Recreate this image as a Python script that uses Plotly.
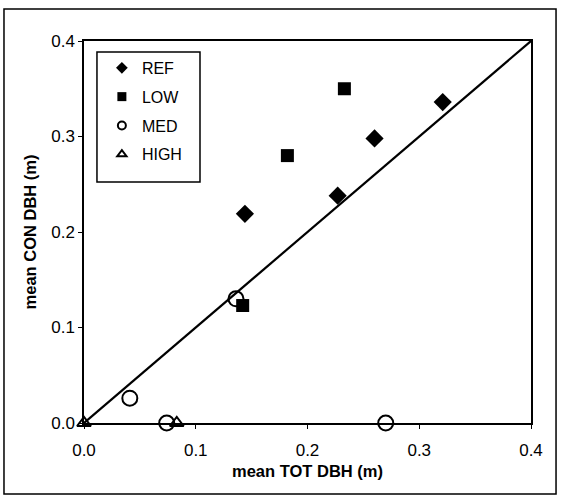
import plotly.graph_objects as go

# Data (mean TOT DBH, mean CON DBH) in metres
ref_x = [0.144, 0.227, 0.260, 0.321]
ref_y = [0.219, 0.238, 0.298, 0.336]
low_x = [0.142, 0.182, 0.233]
low_y = [0.123, 0.280, 0.350]
med_x = [0.041, 0.074, 0.136, 0.270]
med_y = [0.026, 0.000, 0.130, 0.000]
high_x = [0.000, 0.083]
high_y = [0.000, 0.000]
line_x = [0.0, 0.4]
line_y = [0.0, 0.4]
ticks = [0.0, 0.1, 0.2, 0.3, 0.4]
tick_text = ["0.0", "0.1", "0.2", "0.3", "0.4"]
series_names = ["REF", "LOW", "MED", "HIGH"]

FONT = "Liberation Sans, Arial, sans-serif"

styles = {
    "REF": dict(symbol="diamond", size=14, color="black"),
    "LOW": dict(symbol="square", size=13, color="black"),
    "MED": dict(symbol="circle-open", size=15, color="black", line=dict(width=2, color="black")),
    "HIGH": dict(symbol="triangle-up-open", size=12, color="black", line=dict(width=2, color="black")),
}
legend_styles = {
    "REF": dict(symbol="diamond", size=9, color="black"),
    "LOW": dict(symbol="square", size=9, color="black"),
    "MED": dict(symbol="circle-open", size=8, color="black", line=dict(width=2, color="black")),
    "HIGH": dict(symbol="triangle-up-open", size=8, color="black", line=dict(width=2, color="black")),
}
data = {"REF": (ref_x, ref_y), "LOW": (low_x, low_y), "MED": (med_x, med_y), "HIGH": (high_x, high_y)}

fig = go.Figure()
fig.add_trace(go.Scatter(x=line_x, y=line_y, mode="lines",
                         line=dict(color="black", width=2.2),
                         showlegend=False, hoverinfo="skip"))
for i, name in enumerate(series_names):
    xs, ys = data[name]
    fig.add_trace(go.Scatter(x=xs, y=ys, mode="markers", name=name, showlegend=False,
                             marker=styles[name], cliponaxis=False))
for i, name in enumerate(series_names):
    fig.add_trace(go.Scatter(x=[None], y=[None], mode="markers", name=name,
                             legendgroup=str(i), marker=legend_styles[name]))

axis_common = dict(range=[0, 0.4], tickvals=ticks, ticktext=tick_text,
                   showgrid=False, zeroline=False, showline=True, linecolor="black",
                   linewidth=1.5, mirror=True, ticks="outside", ticklen=4,
                   tickcolor="black", tickfont=dict(family=FONT, size=17, color="black"))

fig.update_layout(
    width=561, height=499,
    margin=dict(l=84, r=30, t=41, b=76),
    paper_bgcolor="white", plot_bgcolor="white",
    font=dict(family=FONT, color="black"),
    xaxis=dict(**axis_common, ticklabelstandoff=7,
               title=dict(text="<b>mean TOT DBH (m)</b>", font=dict(family=FONT, size=16.5),
                          standoff=6)),
    yaxis=dict(**axis_common,
               title=dict(text="<b>mean CON DBH (m)</b>", font=dict(family=FONT, size=16.5),
                          standoff=10)),
    legend=dict(x=0.04, y=0.974, xanchor="left", yanchor="top",
                borderwidth=0, bgcolor="rgba(0,0,0,0)",
                font=dict(family=FONT, size=16), tracegroupgap=5,
                itemwidth=30),
    shapes=[
        dict(type="rect", xref="paper", yref="paper",
             x0=-0.179, x1=1.056, y0=-0.186, y1=1.084,
             line=dict(color="black", width=1.5), layer="below"),
        dict(type="rect", xref="paper", yref="paper",
             x0=0.029, x1=0.2595, y0=0.631, y1=0.971,
             line=dict(color="black", width=1.5), fillcolor="white", layer="below"),
    ],
)

fig.write_html("out.html")
